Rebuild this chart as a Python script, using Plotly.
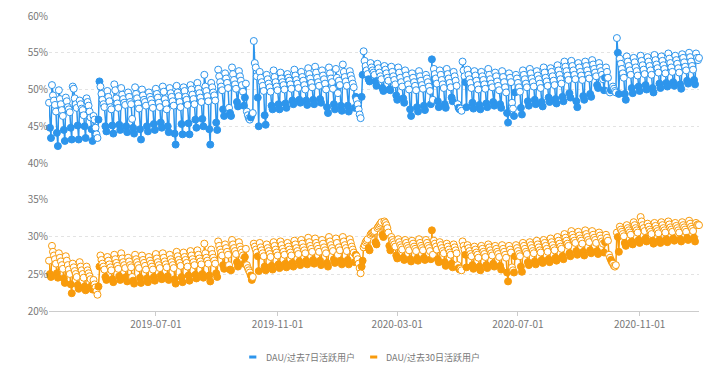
import pandas as pd
import plotly.graph_objects as go

start_date = "2019-03-15"

# DAU / 过去7日活跃用户 (%), daily from 2019-03-15 (first row Fri-Sun, then Mon..Sun weeks)
dau_wau = [
    48.2, 44.8, 43.4,
    50.6, 49.2, 48.5, 47.9, 47.0, 44.1, 42.3,
    49.9, 48.7, 48.0, 47.2, 46.4, 44.5, 43.0,
    48.9, 48.4, 47.6, 47.3, 46.9, 44.8, 43.2,
    50.4, 50.1, 48.8, 48.0, 47.5, 45.1, 43.2,
    48.5, 48.0, 47.4, 47.2, 46.5, 45.0, 43.4,
    48.8, 48.3, 47.8, 47.0, 46.2, 44.6, 43.0,
    46.4, 45.9, 44.8, 43.9, 43.4, 45.9, 51.1,
    50.4, 49.4, 48.6, 48.0, 47.6, 45.0, 44.3,
    49.8, 49.0, 48.4, 47.6, 47.3, 45.1, 44.0,
    50.7, 49.9, 48.8, 48.1, 47.5, 45.2, 44.5,
    50.2, 49.3, 48.7, 48.2, 47.9, 45.0, 44.2,
    49.6, 49.0, 48.3, 48.0, 46.0, 44.8, 44.0,
    50.3, 49.4, 48.8, 48.1, 47.4, 44.6, 43.2,
    50.0, 49.2, 48.6, 48.3, 47.8, 45.0, 44.3,
    49.6, 49.0, 48.6, 48.1, 47.5, 45.3, 44.5,
    50.1, 49.4, 48.9, 48.2, 47.6, 45.5, 44.8,
    50.4, 49.7, 48.7, 48.1, 47.3, 45.0, 44.2,
    50.2, 49.5, 49.0, 48.4, 47.8, 44.0, 42.5,
    50.5, 49.6, 49.1, 48.3, 47.6, 45.3, 43.9,
    50.3, 49.8, 49.0, 48.6, 47.9, 45.4, 43.9,
    50.6, 50.0, 49.3, 48.7, 48.0, 45.9, 44.8,
    50.9, 50.1, 49.5, 48.9, 48.3, 46.0, 45.0,
    52.0, 50.4, 49.8, 49.1, 48.4, 44.6, 42.5,
    50.9, 50.3, 49.6, 49.2, 48.5, 45.5, 44.5,
    52.7, 51.8, 51.0, 50.4, 49.9, 47.3, 46.4,
    52.2, 51.5, 50.9, 50.2, 47.5, 46.8, 46.4,
    53.0, 52.1, 51.3, 50.7, 50.1, 48.3, 47.7,
    52.5, 51.8, 51.2, 50.6, 49.7, 47.8, 48.9,
    50.8, 47.0, 46.5, 46.1, 45.9, 46.2, 46.6,
    46.8, 56.6, 53.6, 53.0, 51.8, 48.9, 45.0,
    52.4, 51.6, 51.0, 50.5, 49.8, 46.5, 45.2,
    52.0, 51.4, 50.8, 50.3, 49.7, 47.8, 47.3,
    52.6, 51.7, 51.0, 50.4, 49.9, 48.0, 47.3,
    52.3, 51.5, 51.0, 50.6, 50.0, 48.1, 47.5,
    52.1, 51.6, 51.2, 50.7, 50.1, 48.5, 48.0,
    52.7, 51.9, 51.3, 50.8, 50.2, 48.6, 48.2,
    52.4, 51.7, 51.2, 50.6, 50.0, 48.5, 47.9,
    52.9, 52.1, 51.5, 50.9, 50.3, 48.6, 48.0,
    53.1, 52.3, 51.6, 51.0, 50.5, 48.7, 48.2,
    52.6, 51.9, 51.4, 50.8, 50.0, 47.6, 46.8,
    53.0, 52.2, 51.5, 51.0, 50.1, 48.0, 47.3,
    52.8, 51.6, 49.5, 51.2, 50.6, 47.8, 47.1,
    53.4, 52.4, 51.7, 51.1, 50.5, 47.8, 47.0,
    52.5, 51.9, 51.4, 50.8, 50.3, 47.5, 49.0,
    48.6, 48.0, 47.3, 46.6, 46.1, 49.0, 52.0,
    55.2, 53.9, 53.2, 52.6, 52.1, 51.4, 51.1,
    53.6, 53.0, 52.6, 52.3, 52.0, 51.1, 50.5,
    53.5, 52.9, 52.3, 51.8, 51.4, 50.2, 49.8,
    53.2, 52.7, 52.2, 51.6, 51.2, 50.0, 49.9,
    53.1, 52.4, 51.8, 51.3, 50.7, 49.2, 48.6,
    53.0, 52.3, 51.6, 51.0, 50.4, 48.8, 48.2,
    52.6, 51.9, 51.3, 50.7, 50.0, 47.3, 46.4,
    52.2, 51.6, 51.0, 50.5, 49.9, 47.6, 47.0,
    52.5, 51.8, 51.2, 50.6, 50.1, 47.8, 47.2,
    52.0, 51.5, 51.0, 50.4, 49.8, 48.0, 54.1,
    48.6, 52.8, 52.1, 51.5, 50.8, 48.4, 47.6,
    52.6, 52.0, 51.3, 50.7, 50.2, 48.0, 47.5,
    52.8, 52.1, 51.5, 50.9, 50.3, 48.9, 48.4,
    52.4, 51.8, 51.2, 50.5, 48.0, 47.5, 47.3,
    47.4, 47.1, 53.8, 52.6, 51.8, 51.0, 47.6,
    52.7, 52.0, 51.4, 50.9, 50.2, 48.2, 47.4,
    52.5, 51.9, 51.2, 50.6, 50.0, 47.9, 47.3,
    52.4, 51.8, 51.3, 50.7, 50.1, 48.1, 47.6,
    52.8, 52.0, 51.4, 50.8, 50.3, 48.3, 47.8,
    52.3, 51.8, 51.1, 50.5, 49.9, 48.0, 47.5,
    52.5, 51.7, 51.0, 50.3, 49.6, 46.8, 45.5,
    52.2, 51.6, 51.0, 48.2, 47.4, 46.4, 49.6,
    52.0, 51.5, 50.9, 50.3, 49.7, 47.5, 46.6,
    52.6, 52.0, 51.4, 50.8, 50.3, 48.4, 47.8,
    52.8, 52.2, 51.5, 51.0, 50.4, 48.6, 48.0,
    52.5, 51.9, 51.4, 50.8, 50.2, 48.3, 47.7,
    53.0, 52.3, 51.6, 51.1, 50.5, 48.9, 48.3,
    52.9, 52.4, 51.8, 51.2, 50.6, 48.7, 48.1,
    53.3, 52.6, 52.0, 51.4, 50.8, 49.0, 48.4,
    53.8, 53.1, 52.5, 51.9, 51.3, 49.5, 48.9,
    53.9, 53.2, 52.6, 52.0, 51.4, 48.4, 47.6,
    53.6, 53.0, 52.4, 51.9, 51.3, 49.1, 48.6,
    53.8, 53.2, 52.6, 52.0, 51.5, 49.4, 49.0,
    54.0, 53.4, 52.8, 52.3, 51.8, 50.6, 50.2,
    53.6, 53.0, 52.5, 52.0, 51.4, 49.9, 51.6,
    53.0, 52.4, 51.6, 49.8, 49.6, 49.9, 50.1,
    50.4, 50.1, 49.8, 49.6, 57.0, 55.0, 49.4,
    54.2, 53.5, 52.8, 52.2, 51.6, 49.4, 48.6,
    54.5, 53.8, 53.2, 52.6, 52.0, 50.2, 49.5,
    54.3, 53.7, 53.0, 52.5, 51.9, 50.4, 49.8,
    54.6, 53.9, 53.3, 52.7, 52.1, 50.6, 50.0,
    54.4, 53.8, 53.2, 52.6, 52.0, 50.2, 49.6,
    54.7, 54.0, 53.4, 52.9, 52.3, 50.8, 50.2,
    54.5, 53.9, 53.3, 52.8, 52.2, 50.9, 50.4,
    54.9, 54.2, 53.6, 53.0, 52.4, 51.0, 50.5,
    54.6, 54.0, 53.5, 52.9, 52.3, 50.7, 50.1,
    54.8, 54.3, 53.7, 53.1, 52.6, 51.2, 50.8,
    55.0, 54.4, 53.8, 53.2, 52.7, 51.3, 50.7,
    54.9, 54.3, 54.0, 54.3,
]

# DAU / 过去30日活跃用户 (%), same days
dau_mau = [
    26.8, 25.0, 24.6,
    28.8, 28.0, 27.5, 27.0, 26.4, 25.1, 24.5,
    27.8, 27.2, 26.7, 26.2, 25.7, 24.4, 23.8,
    27.4, 26.8, 26.2, 25.6, 25.0, 23.6, 22.4,
    26.4, 25.9, 25.4, 25.0, 24.6, 23.5, 23.0,
    26.6, 26.0, 25.5, 25.0, 24.5, 23.3, 22.8,
    26.0, 25.5, 25.1, 24.7, 24.3, 23.4, 22.9,
    24.2, 23.6, 23.2, 22.7, 22.2, 23.3, 26.0,
    27.5, 26.9, 26.4, 26.0, 25.6, 24.6, 24.2,
    27.3, 26.8, 26.3, 25.9, 25.5, 24.3, 23.9,
    27.6, 27.0, 26.5, 26.1, 25.7, 24.7, 24.2,
    27.8, 27.1, 26.6, 26.2, 25.8, 24.6, 24.0,
    27.2, 26.7, 26.2, 25.9, 24.6, 24.1, 23.7,
    27.6, 27.0, 26.6, 26.2, 25.8, 24.5, 23.8,
    27.5, 26.9, 26.5, 26.1, 25.6, 24.4, 23.9,
    27.3, 26.8, 26.4, 26.0, 25.6, 24.6, 24.1,
    27.7, 27.1, 26.6, 26.2, 25.8, 24.8, 24.3,
    27.8, 27.2, 26.7, 26.3, 25.9, 24.7, 24.2,
    27.6, 27.0, 26.6, 26.2, 25.8, 24.3, 23.7,
    28.0, 27.4, 26.9, 26.5, 26.1, 24.6, 23.9,
    27.9, 27.3, 26.9, 26.5, 26.0, 24.8, 24.1,
    28.1, 27.5, 27.0, 26.6, 26.2, 24.9, 24.4,
    28.2, 27.6, 27.1, 26.7, 26.3, 25.0, 24.5,
    29.1, 27.8, 27.2, 26.8, 26.4, 24.8, 24.0,
    28.3, 27.7, 27.2, 26.8, 26.4, 25.1, 24.6,
    29.4, 28.8, 28.3, 27.9, 27.5, 26.2, 25.7,
    29.0, 28.5, 28.0, 27.6, 26.2, 25.6, 25.5,
    29.6, 29.0, 28.5, 28.1, 27.7, 26.6, 26.0,
    29.3, 28.7, 28.3, 27.9, 27.5, 26.4, 27.3,
    28.4, 26.2, 25.8, 25.5, 25.2, 24.8, 24.2,
    24.6, 29.1, 28.7, 28.3, 27.9, 27.4, 25.4,
    29.2, 28.6, 28.2, 27.8, 27.4, 26.0, 25.5,
    29.0, 28.5, 28.1, 27.7, 27.3, 26.1, 25.6,
    29.3, 28.8, 28.3, 27.9, 27.5, 26.3, 25.8,
    29.4, 28.9, 28.4, 28.0, 27.6, 26.4, 25.9,
    29.2, 28.7, 28.3, 27.9, 27.5, 26.5, 26.0,
    29.5, 29.0, 28.5, 28.1, 27.7, 26.7, 26.2,
    29.6, 29.1, 28.6, 28.2, 27.8, 26.8, 26.3,
    29.9, 29.3, 28.8, 28.4, 28.0, 26.9, 26.4,
    29.8, 29.2, 28.8, 28.4, 28.0, 26.8, 26.2,
    29.6, 29.1, 28.6, 28.2, 27.8, 26.5, 26.0,
    30.0, 29.4, 28.9, 28.5, 28.1, 27.0, 26.5,
    29.8, 29.2, 27.6, 28.6, 28.2, 26.8, 26.3,
    30.0, 29.4, 28.9, 28.5, 28.1, 26.9, 26.3,
    29.7, 29.2, 28.7, 28.3, 27.9, 26.6, 27.6,
    27.4, 27.0, 26.4, 25.8, 25.1, 26.0, 26.8,
    28.6, 28.9, 29.3, 29.5, 29.7, 28.5, 28.2,
    30.3, 30.5, 30.6, 30.7, 30.8, 29.3, 29.0,
    31.2, 31.4, 31.6, 31.8, 32.0, 30.3, 30.0,
    32.1, 31.9, 31.6, 31.2, 30.6, 28.8, 28.2,
    30.0, 29.6, 29.3, 29.0, 28.7, 27.5, 27.1,
    29.7, 29.3, 28.9, 28.6, 28.3, 27.2, 26.9,
    29.6, 29.2, 28.8, 28.5, 28.2, 27.0, 26.7,
    29.5, 29.1, 28.7, 28.4, 28.1, 27.1, 26.8,
    29.7, 29.2, 28.8, 28.5, 28.2, 27.2, 26.9,
    29.6, 29.2, 28.8, 28.5, 28.1, 27.0, 30.9,
    27.6, 29.5, 29.1, 28.7, 28.3, 27.0, 26.6,
    29.3, 28.9, 28.5, 28.1, 27.8, 26.6, 26.1,
    29.1, 28.7, 28.3, 27.9, 27.6, 26.4, 25.9,
    29.0, 28.6, 28.2, 27.8, 26.2, 25.8, 25.6,
    25.7, 25.5, 29.4, 28.8, 28.3, 27.6, 25.9,
    28.9, 28.5, 28.1, 27.7, 27.4, 26.2, 25.7,
    28.7, 28.3, 27.9, 27.6, 27.2, 26.0, 25.5,
    28.8, 28.4, 28.0, 27.7, 27.3, 26.2, 25.8,
    29.0, 28.6, 28.2, 27.8, 27.5, 26.4, 26.0,
    28.8, 28.4, 28.0, 27.7, 27.3, 26.1, 25.6,
    28.9, 28.4, 28.0, 27.6, 27.2, 25.2, 24.0,
    28.8, 28.3, 27.9, 25.9, 25.5, 25.2, 27.4,
    28.9, 28.5, 28.1, 27.7, 27.4, 26.0, 25.3,
    29.2, 28.8, 28.4, 28.0, 27.7, 26.6, 26.2,
    29.3, 28.9, 28.5, 28.1, 27.8, 26.7, 26.3,
    29.5, 29.0, 28.6, 28.2, 27.9, 26.9, 26.5,
    29.6, 29.2, 28.8, 28.4, 28.0, 27.0, 26.6,
    29.8, 29.3, 28.9, 28.5, 28.2, 27.2, 26.8,
    30.0, 29.5, 29.1, 28.7, 28.4, 27.4, 27.0,
    30.4, 29.9, 29.5, 29.1, 28.8, 27.8, 27.4,
    30.8, 30.3, 29.9, 29.5, 29.2, 28.1, 27.6,
    30.7, 30.2, 29.8, 29.5, 29.1, 28.0, 27.5,
    30.9, 30.4, 30.0, 29.6, 29.3, 28.2, 27.8,
    30.8, 30.3, 29.9, 29.6, 29.2, 28.1, 27.7,
    30.6, 30.2, 29.8, 29.4, 29.1, 27.9, 29.3,
    30.3, 29.9, 29.5, 27.6, 27.2, 26.9, 26.6,
    26.4, 26.1, 26.0, 26.2, 30.6, 30.0, 28.0,
    31.4, 31.0, 30.7, 30.4, 30.1, 29.2, 28.8,
    31.6, 31.2, 30.9, 30.6, 30.3, 29.4, 29.0,
    32.0, 31.6, 31.2, 30.9, 30.6, 29.6, 29.2,
    32.7, 32.1, 31.6, 31.2, 30.8, 29.8, 29.4,
    31.8, 31.4, 31.0, 30.7, 30.4, 29.5, 29.1,
    31.9, 31.5, 31.1, 30.8, 30.5, 29.6, 29.2,
    32.0, 31.6, 31.2, 30.9, 30.6, 29.7, 29.3,
    32.1, 31.7, 31.3, 31.0, 30.7, 29.8, 29.5,
    31.9, 31.5, 31.2, 30.9, 30.6, 29.7, 29.4,
    32.0, 31.6, 31.3, 31.0, 30.7, 29.9, 29.6,
    32.2, 31.8, 31.4, 31.1, 30.8, 29.9, 29.4,
    31.9, 31.6, 31.7, 31.6,
]

x_tick_labels = ["2019-07-01", "2019-11-01", "2020-03-01", "2020-07-01", "2020-11-01"]
top_ticks = [40, 45, 50, 55, 60]
bottom_ticks = [20, 25, 30, 35]
series_names = ["DAU/过去7日活跃用户", "DAU/过去30日活跃用户"]

BLUE = "#2d95ec"
ORANGE = "#f89b0c"
FONT = "Noto Sans CJK SC"

dates = pd.date_range(start_date, periods=len(dau_wau), freq="D")
is_weekend = dates.dayofweek >= 5


def fills(color):
    return [color if w else "#ffffff" for w in is_weekend]


fig = go.Figure()
fig.add_trace(go.Scatter(
    x=dates, y=dau_wau, mode="lines+markers", xaxis="x2", yaxis="y2", name=series_names[0],
    line=dict(color=BLUE, width=1.5),
    marker=dict(symbol="circle", size=7, color=fills(BLUE), line=dict(color=BLUE, width=1)),
    showlegend=False, cliponaxis=False, hoverinfo="x+y",
))
fig.add_trace(go.Scatter(
    x=dates, y=dau_mau[:len(dates)], mode="lines+markers", xaxis="x", yaxis="y", name=series_names[1],
    line=dict(color=ORANGE, width=1.5),
    marker=dict(symbol="circle", size=7, color=fills(ORANGE), line=dict(color=ORANGE, width=1)),
    showlegend=False, cliponaxis=False, hoverinfo="x+y",
))

# compact legend (short colour dash + label), placed below the x axis
legend_y = -0.156
legend_items = [(series_names[0], BLUE, 0.308), (series_names[1], ORANGE, 0.494)]
for name, col, lx in legend_items:
    fig.add_shape(type="line", xref="paper", yref="paper", x0=lx, x1=lx + 0.011,
                  y0=legend_y, y1=legend_y, line=dict(color=col, width=3))
    fig.add_annotation(xref="paper", yref="paper", x=lx + 0.022, y=legend_y, text=name,
                       showarrow=False, xanchor="left", yanchor="middle",
                       font=dict(family=FONT, size=9, color="#777"))

grid = dict(showgrid=True, gridcolor="#e3e3e3", griddash="dot", gridwidth=1, zeroline=False,
            tickfont=dict(family=FONT, size=10, color="#777"), showline=False, ticks="",
            ticklabeloverflow="allow")

# the page body adds an 8px offset, so the figure is 716x363 with margins shifted accordingly
fig.update_layout(
    width=716, height=363,
    margin=dict(l=41, r=25, t=8, b=60, autoexpand=False),
    paper_bgcolor="white", plot_bgcolor="white",
    font=dict(family=FONT, size=10, color="#777"),
    showlegend=False,
    xaxis=dict(domain=[0, 1], anchor="y", type="date", range=[dates[0], dates[-1]],
               tickvals=x_tick_labels, ticktext=x_tick_labels,
               ticks="outside", ticklen=4, tickcolor="#cccccc",
               showline=True, linecolor="#cccccc", linewidth=1, showgrid=False, zeroline=False,
               tickfont=dict(family=FONT, size=10, color="#777")),
    xaxis2=dict(domain=[0, 1], anchor="y2", matches="x", type="date",
                showticklabels=False, showgrid=False, showline=False, zeroline=False, ticks=""),
    yaxis=dict(domain=[0, 0.3763], range=[20, 35], tickvals=bottom_ticks,
               ticktext=[f"{v}%" for v in bottom_ticks], anchor="x", **grid),
    yaxis2=dict(domain=[0.5017, 1], range=[40, 60], tickvals=top_ticks,
                ticktext=[f"{v}%" for v in top_ticks], anchor="x2", **grid),
)

fig.write_html("out.html")
